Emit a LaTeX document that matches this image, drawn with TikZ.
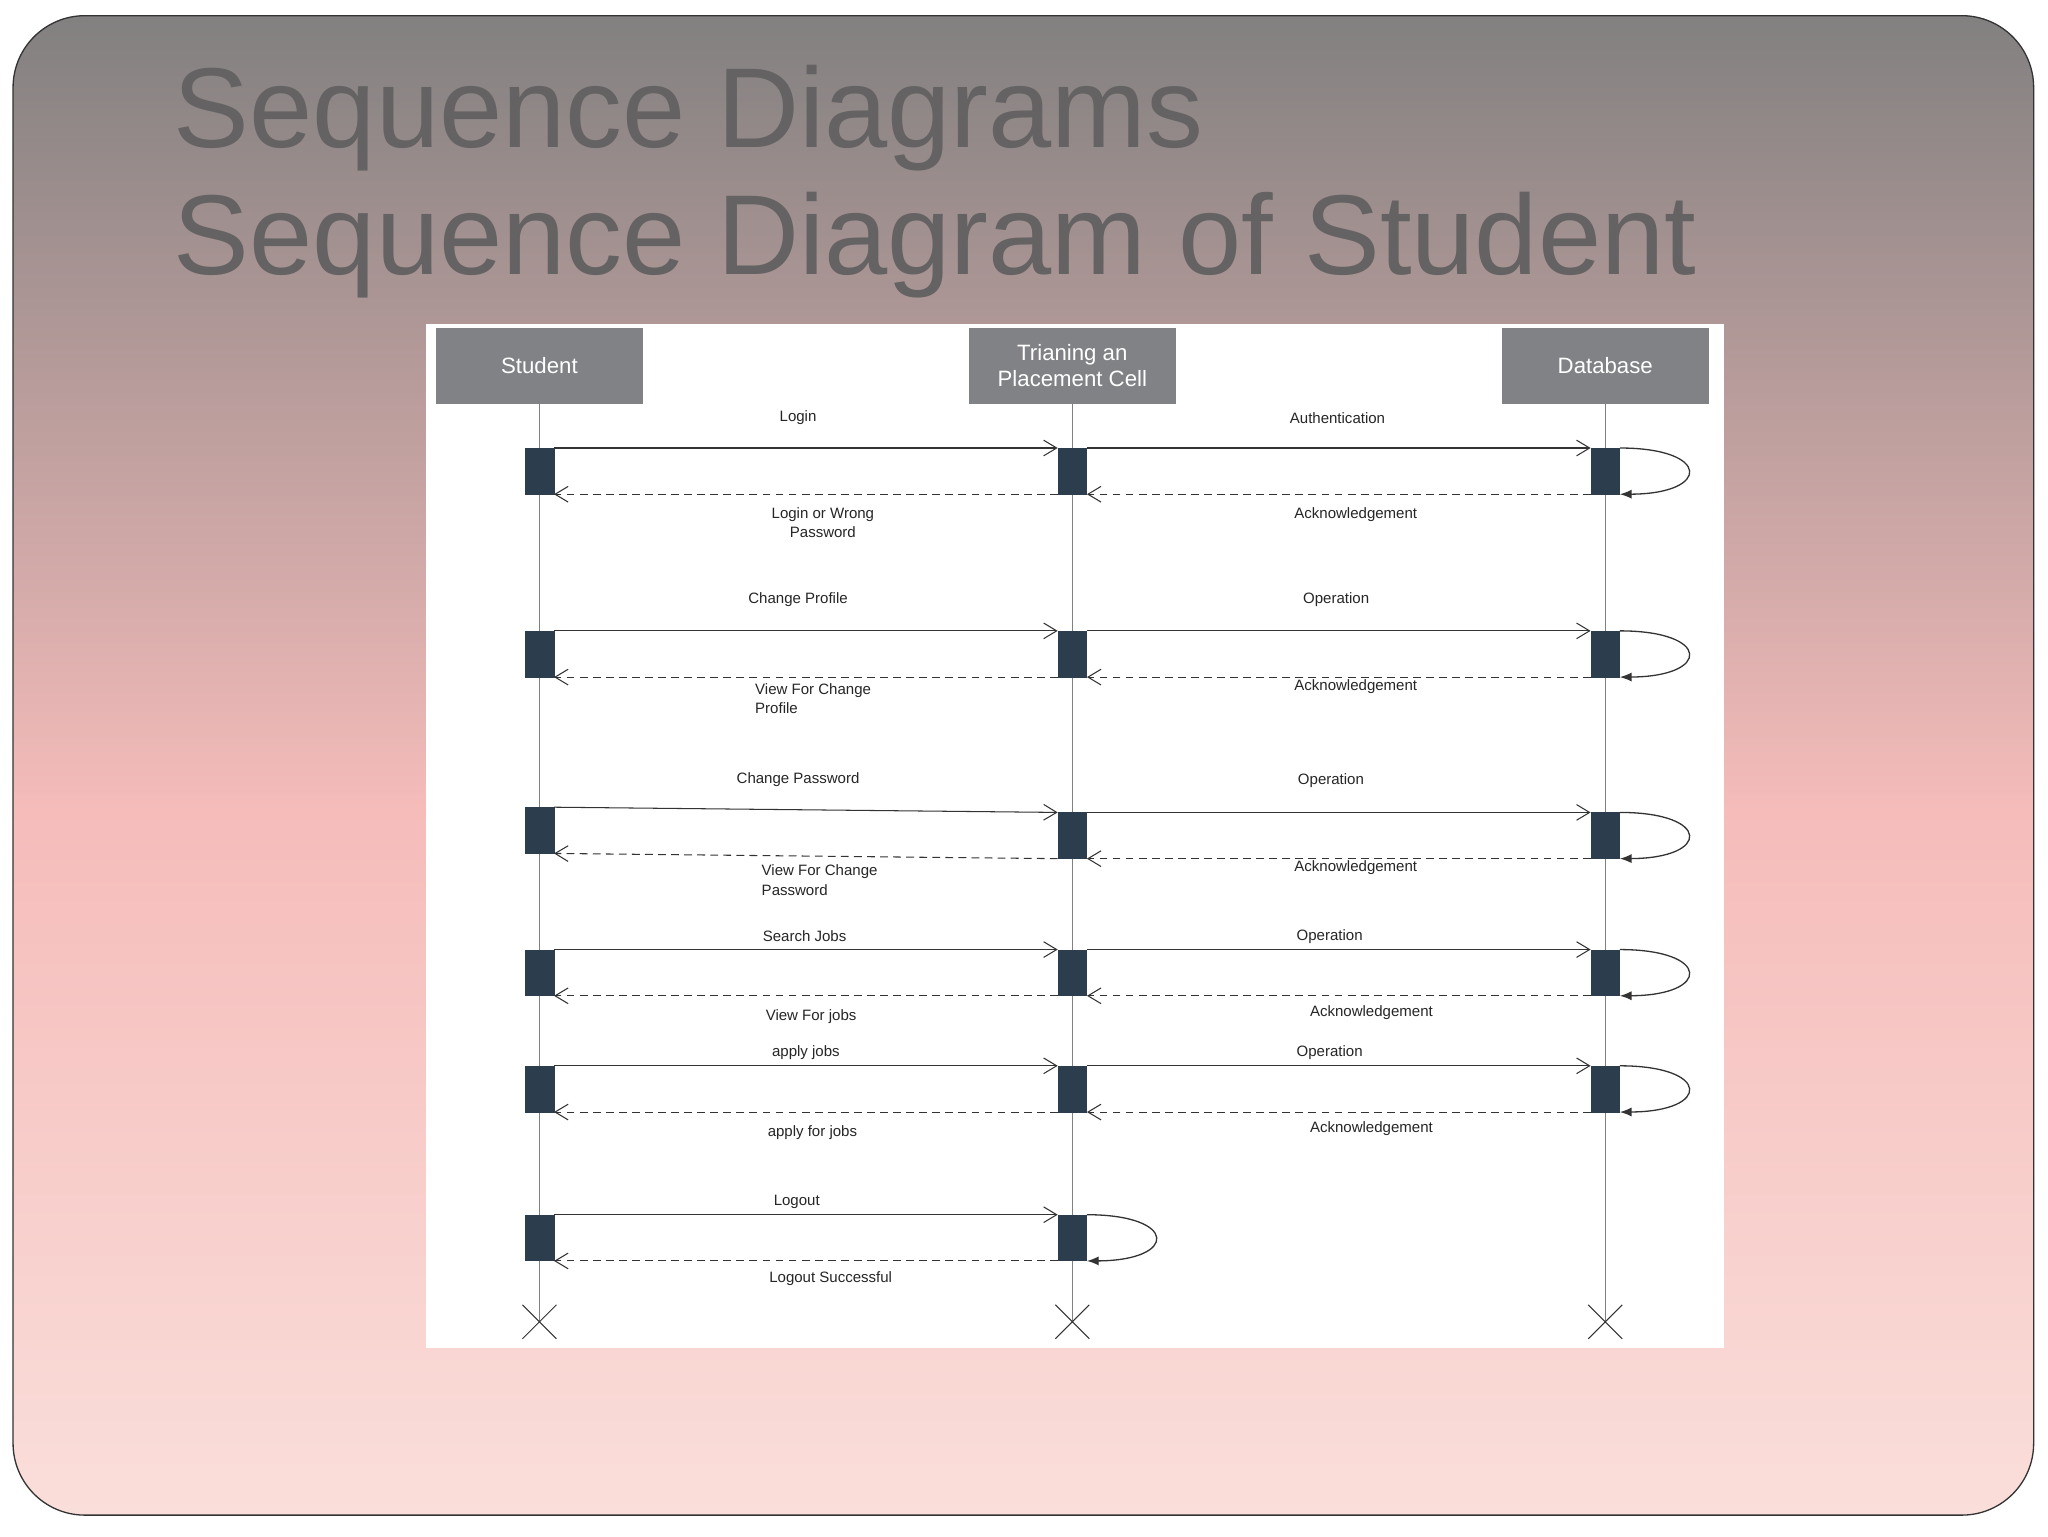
\documentclass[tikz,border=0pt]{standalone}
\usepackage{fontspec}
\setmainfont{Liberation Sans}
\usetikzlibrary{arrows.meta}
\definecolor{bgtop}{RGB}{130,128,128}
\definecolor{bgmid}{RGB}{245,188,186}
\definecolor{bgbot}{RGB}{250,222,218}
\definecolor{act}{RGB}{44,62,78}
\definecolor{head}{RGB}{128,130,133}
\definecolor{ttl}{RGB}{100,98,98}
\tikzset{
 headbox/.style={fill=head,draw=head,minimum width=158pt,minimum height=58pt,text=white,font=\fontsize{17}{20}\selectfont,align=center,inner sep=0},
 actbox/.style={fill=act,draw=act,minimum width=22pt,minimum height=35pt,inner sep=0},
 lbl/.style={font=\fontsize{11.5}{15}\selectfont,text=black!85,align=left,inner sep=1pt},
 msg/.style={draw=black!80,line width=0.8pt,-{Straight Barb[length=10pt,width=12pt]}},
 ret/.style={draw=black!80,line width=0.8pt,dashed,dash pattern=on 6pt off 4pt,-{Straight Barb[length=10pt,width=12pt]}},
 self/.style={draw=black!80,line width=1pt,-{Latex[length=9pt,width=7pt]}},
 life/.style={draw=black!50,line width=0.6pt}
}
\begin{document}
\begin{tikzpicture}[x=1pt,y=-1pt]
\useasboundingbox (0,0) rectangle (1568,1176);
\fill[white] (0,0) rectangle (1568,1176);
\begin{scope}
\clip[rounded corners=55pt] (10,12) rectangle (1557,1160);
\shade[top color=bgtop,bottom color=bgmid] (10,12) rectangle (1557,620);
\shade[top color=bgmid,bottom color=bgbot] (10,619) rectangle (1557,1160);
\end{scope}
\draw[black!80,line width=1pt,rounded corners=55pt] (10,12) rectangle (1557,1160);
\node[anchor=base west,inner sep=0,text=ttl,font=\fontsize{87}{90}\selectfont] (t1) at (133,113) {Sequence Diagrams};
\node[anchor=base west,inner sep=0,text=ttl,font=\fontsize{87}{90}\selectfont] (t2) at (133,210) {Sequence Diagram of Student};
\fill[white] (326,248) rectangle (1320,1032);
\node[headbox] (hs) at (413,280) {Student};
\node[headbox] (hp) at (821,280) {Trianing an\\Placement Cell};
\node[headbox] (hd) at (1229,280) {Database};
\foreach \n/\x in {s/413,p/821,d/1229}{
  \coordinate (e\n) at (\x,1012);
  \draw[life] (h\n.south) -- (e\n);
  \draw[black!80,line width=0.8pt] (\x-13,999) -- (\x+13,1025) (\x-13,1025) -- (\x+13,999);
}
% rows: id / student top / mid top / db top
\foreach \r/\ys/\yp in {1/343/343,2/483/483,3/618/622,4/727/727,5/816/816}{
  \node[actbox,anchor=north] (s\r) at (413,\ys) {};
  \node[actbox,anchor=north] (p\r) at (821,\yp) {};
  \node[actbox,anchor=north] (d\r) at (1229,\yp) {};
  \draw[msg] (s\r.north east) -- (p\r.north west);
  \draw[ret] (p\r.south west) -- (s\r.south east);
  \draw[msg] (p\r.north east) -- (d\r.north west);
  \draw[ret] (d\r.south west) -- (p\r.south east);
  \draw[self] (d\r.north east) .. controls (1310,\yp) and (1310,\yp+35) .. (d\r.south east);
}
\node[actbox,anchor=north] (s6) at (413,930) {};
\node[actbox,anchor=north] (p6) at (821,930) {};
\draw[msg] (s6.north east) -- (p6.north west);
\draw[ret] (p6.south west) -- (s6.south east);
\draw[self] (p6.north east) .. controls (902,930) and (902,965) .. (p6.south east);
% labels
\node[lbl] (l1) at (611,320) {Login};
\node[lbl] (l2) at (1024,320) {Authentication};
\node[lbl,align=center] (l3) at (630,400) {Login or Wrong\\Password};
\node[lbl] (l4) at (1038,394) {Acknowledgement};
\node[lbl] (l5) at (611,459) {Change Profile};
\node[lbl] (l6) at (1023,459) {Operation};
\node[lbl,anchor=west] (l7) at (577,535) {View For Change\\Profile};
\node[lbl] (l8) at (1038,526) {Acknowledgement};
\node[lbl] (l9) at (611,597) {Change Password};
\node[lbl] (l10) at (1019,598) {Operation};
\node[lbl,anchor=west] (l11) at (582,674) {View For Change\\Password};
\node[lbl] (l12) at (1038,664) {Acknowledgement};
\node[lbl] (l13) at (616,717) {Search Jobs};
\node[lbl] (l14) at (1018,717) {Operation};
\node[lbl] (l15) at (621,778) {View For jobs};
\node[lbl] (l16) at (1050,775) {Acknowledgement};
\node[lbl] (l17) at (617,806) {apply jobs};
\node[lbl] (l18) at (1018,806) {Operation};
\node[lbl] (l19) at (622,867) {apply for jobs};
\node[lbl] (l20) at (1050,864) {Acknowledgement};
\node[lbl] (l21) at (610,920) {Logout};
\node[lbl] (l22) at (636,979) {Logout Successful};
\end{tikzpicture}
\end{document}
